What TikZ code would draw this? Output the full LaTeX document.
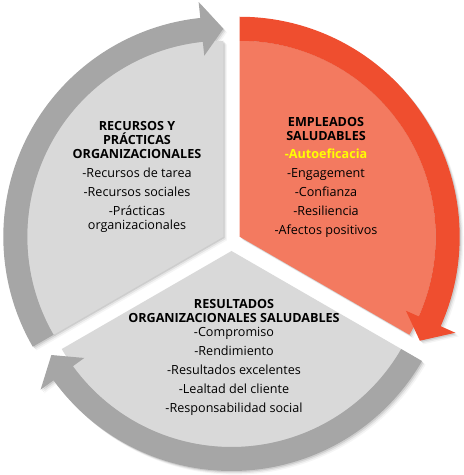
\documentclass[tikz,border=0pt]{standalone}
\usepackage{fontspec}
\setmainfont{Open Sans}
\definecolor{orband}{HTML}{EF4E2F}
\definecolor{orfill}{HTML}{F37A60}
\definecolor{grband}{HTML}{A6A6A6}
\definecolor{grfill}{HTML}{D9D9D9}
\definecolor{hiyellow}{HTML}{FFFF00}
\newcommand\mypie[3]{\fill[#1] (0,0) -- (#2:196) arc[start angle=#2,end angle=#3,radius=196] -- cycle;}
\newcommand\myarrow[3]{%
  \pgfmathsetmacro\hb{#3+6}%
  \fill[#1] (#2:220) arc[start angle=#2,end angle=\hb,radius=220] -- (\hb:236) -- (#3:208) -- (\hb:182) -- (\hb:196) arc[start angle=\hb,end angle=#2,radius=196] -- cycle;}
\newcommand\mysector[5]{% shift, pie colour, band colour, a0, a1
  \begin{scope}[shift={#1}]
    \mypie{#2}{#4}{#5}
    \myarrow{#3}{#4}{#5}
  \end{scope}}
\begin{document}
\begin{tikzpicture}[x=1pt,y=1pt,
  txt/.style={font=\fontsize{12.6}{14}\selectfont, anchor=base, inner sep=0pt, text=black},
  hd/.style={txt, font=\fontsize{12.6}{14}\selectfont\bfseries}]
\useasboundingbox (0,0) rectangle (464,475);
% shadows
\foreach \o/\op in {1.2/0.10, 2.4/0.07, 3.6/0.04}{
  \mysector{(239.7+\o,238.25-\o)}{black,opacity=\op}{black,opacity=\op}{90}{-30}
  \mysector{(223.3+\o,238.25-\o)}{black,opacity=\op}{black,opacity=\op}{210}{90}
  \mysector{(231.5+\o,224-\o)}{black,opacity=\op}{black,opacity=\op}{-30}{-150}
}
% sectors
\mysector{(239.7,238.25)}{orfill}{orband}{90}{-30}
\mysector{(223.3,238.25)}{grfill}{grband}{210}{90}
\mysector{(231.5,224)}{grfill}{grband}{-30}{-150}
% left text
\node[hd] (l1) at (137,344.5) {RECURSOS Y};
\node[hd] (l2) at (137,330.5) {PRÁCTICAS};
\node[hd] (l3) at (137,316.5) {ORGANIZACIONALES};
\node[txt] (l4) at (137,297.5) {-Recursos de tarea};
\node[txt] (l5) at (137,278.5) {-Recursos sociales};
\node[txt] (l6) at (137,259.5) {-Prácticas};
\node[txt] (l7) at (137,245.5) {organizacionales};
% right text
\node[hd] (r1) at (326,348.8) {EMPLEADOS};
\node[hd] (r2) at (326,334.8) {SALUDABLES};
\node[hd,text=hiyellow] (r3) at (326,316.2) {-Autoeficacia};
\node[txt] (r4) at (326,297.2) {-Engagement};
\node[txt] (r5) at (326,278.2) {-Confianza};
\node[txt] (r6) at (326,259.2) {-Resiliencia};
\node[txt] (r7) at (326,240.2) {-Afectos positivos};
% bottom text
\node[hd] (b1) at (234,166.2) {RESULTADOS};
\node[hd] (b2) at (234,152.2) {ORGANIZACIONALES SALUDABLES};
\node[txt] (b3) at (234,138.2) {-Compromiso};
\node[txt] (b4) at (234,119.2) {-Rendimiento};
\node[txt] (b5) at (234,100.2) {-Resultados excelentes};
\node[txt] (b6) at (234,81.2) {-Lealtad del cliente};
\node[txt] (b7) at (234,62.2) {-Responsabilidad social};
\end{tikzpicture}
\end{document}
